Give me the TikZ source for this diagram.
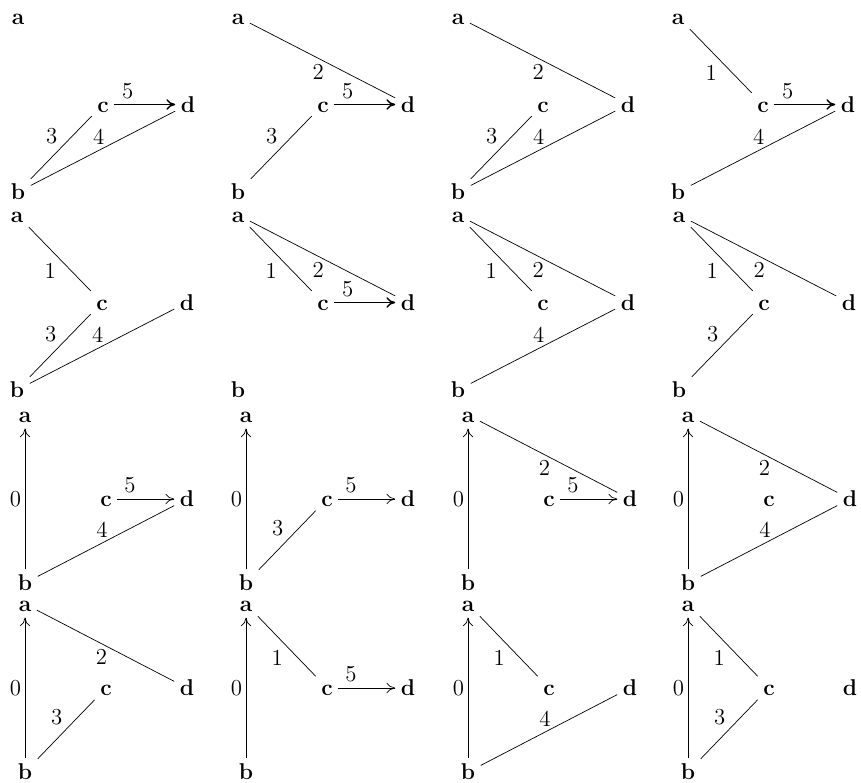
\documentclass[tikz,border=0pt]{standalone}
\usepackage{tikz}
\usetikzlibrary{arrows.meta}

\begin{document}
\begin{tikzpicture}[
  x=0.02cm,y=-0.02cm,
  vtx/.style={
    font=\fontsize{13}{15}\selectfont\bfseries,
    inner sep=3pt,text height=9pt,text depth=0pt
  },
  lbl/.style={font=\fontsize{13}{15}\selectfont,inner sep=2pt},
  dir/.style={draw,-{To[length=5pt,width=6pt]}},
  l0/.style={lbl,midway,left},
  l1/.style={lbl,midway,below left},
  l2/.style={lbl,pos=0.47,below=1pt},
  l3/.style={lbl,midway,above left},
  l4/.style={lbl,pos=0.47,above=1pt},
  l5/.style={lbl,pos=0.22,above=1pt}
]
  \useasboundingbox (0,0) rectangle (861,783);

  % the four vertices of every panel
  \foreach \p/\x/\y/\w/\h in {
      11/18/17/170/175, 12/238/17/170/175, 13/458/17/170/175, 14/678/17/170/175,
      21/17/215/170/175, 22/238/215/170/175, 23/458/215/170/175, 24/679/215/170/175,
      31/25/415/162/168, 32/246/415/162/168, 33/468/415/162/168, 34/688/415/162/168,
      41/25/604/162/168, 42/246/604/162/168, 43/468/604/162/168, 44/688/604/162/168} {
    \node[vtx] (a\p) at (\x,\y) {a};
    \node[vtx] (b\p) at (\x,{\y+\h}) {b};
    \node[vtx] (c\p) at ({\x+\w/2},{\y+\h/2}) {c};
    \node[vtx] (d\p) at ({\x+\w},{\y+\h/2}) {d};
  }

  % row 1
  \draw (b11) -- node[l3] {3} (c11) (b11) -- node[l4] {4} (d11);
  \draw[dir,thick] (c11) -- node[l5] {5} (d11);
  \draw (a12) -- node[l2] {2} (d12) (b12) -- node[l3] {3} (c12);
  \draw[dir,thick] (c12) -- node[l5] {5} (d12);
  \draw (a13) -- node[l2] {2} (d13) (b13) -- node[l3] {3} (c13)
        (b13) -- node[l4] {4} (d13);
  \draw (a14) -- node[l1] {1} (c14) (b14) -- node[l4] {4} (d14);
  \draw[dir,thick] (c14) -- node[l5] {5} (d14);

  % row 2
  \draw (a21) -- node[l1] {1} (c21) (b21) -- node[l3] {3} (c21)
        (b21) -- node[l4] {4} (d21);
  \draw (a22) -- node[l1] {1} (c22) (a22) -- node[l2] {2} (d22);
  \draw[dir,thick] (c22) -- node[l5] {5} (d22);
  \draw (a23) -- node[l1] {1} (c23) (a23) -- node[l2] {2} (d23)
        (b23) -- node[l4] {4} (d23);
  \draw (a24) -- node[l1] {1} (c24) (a24) -- node[l2] {2} (d24)
        (b24) -- node[l3] {3} (c24);

  % row 3
  \draw[dir] (b31) -- node[l0] {0} (a31);
  \draw (b31) -- node[l4] {4} (d31);
  \draw[dir] (c31) -- node[l5] {5} (d31);
  \draw[dir] (b32) -- node[l0] {0} (a32);
  \draw (b32) -- node[l3] {3} (c32);
  \draw[dir] (c32) -- node[l5] {5} (d32);
  \draw[dir] (b33) -- node[l0] {0} (a33);
  \draw (a33) -- node[l2] {2} (d33);
  \draw[dir] (c33) -- node[l5] {5} (d33);
  \draw[dir] (b34) -- node[l0] {0} (a34);
  \draw (a34) -- node[l2] {2} (d34) (b34) -- node[l4] {4} (d34);

  % row 4
  \draw[dir] (b41) -- node[l0] {0} (a41);
  \draw (a41) -- node[l2] {2} (d41) (b41) -- node[l3] {3} (c41);
  \draw[dir] (b42) -- node[l0] {0} (a42);
  \draw (a42) -- node[l1] {1} (c42);
  \draw[dir] (c42) -- node[l5] {5} (d42);
  \draw[dir] (b43) -- node[l0] {0} (a43);
  \draw (a43) -- node[l1] {1} (c43) (b43) -- node[l4] {4} (d43);
  \draw[dir] (b44) -- node[l0] {0} (a44);
  \draw (a44) -- node[l1] {1} (c44) (b44) -- node[l3] {3} (c44);
\end{tikzpicture}
\end{document}
